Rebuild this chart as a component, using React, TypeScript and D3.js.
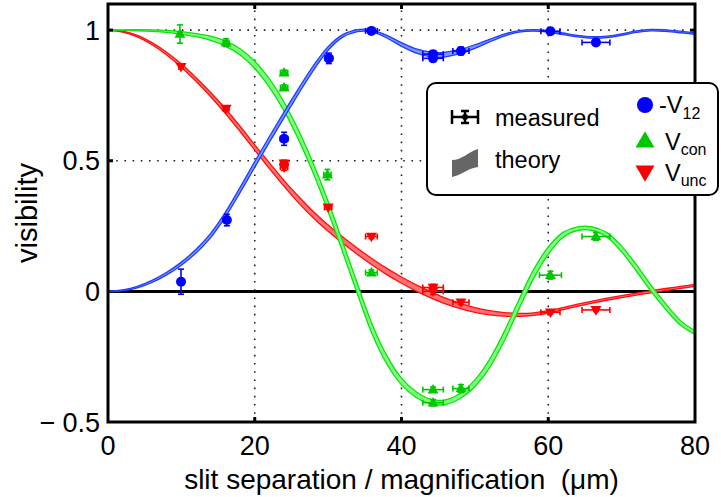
import React from 'react';
import * as d3 from 'd3';

const W = 721;
const H = 497;
const PLOT = { left: 108, right: 695, top: 4, bottom: 422 };

const xTicks = [0, 20, 40, 60, 80];
const xTickLabels = ['0', '20', '40', '60', '80'];
const yTicks = [-0.5, 0, 0.5, 1];
const yTickLabels = ['0.5', '0', '0.5', '1'];
const yTickNegative = [true, false, false, false];
const gridX = [20, 40, 60];
const gridY = [0.5, 1];

// measured data: x, y, x error, y error
const v12X = [9.95, 16.2, 24.0, 30.1, 35.9, 44.3, 44.3, 48.1, 60.3, 66.5];
const v12Y = [0.037, 0.273, 0.584, 0.892, 0.997, 0.908, 0.892, 0.92, 0.996, 0.953];
const v12Xerr = [0.3, 0.3, 0.5, 0.5, 0.8, 1.4, 1.4, 1.1, 1.3, 1.9];
const v12Yerr = [0.048, 0.022, 0.025, 0.02, 0.006, 0.01, 0.01, 0.015, 0.006, 0.008];

const conX = [9.8, 16.1, 24.0, 24.0, 29.9, 35.9, 44.3, 44.3, 48.1, 60.3, 66.5];
const conY = [0.985, 0.952, 0.837, 0.78, 0.447, 0.072, -0.376, -0.426, -0.372, 0.062, 0.21];
const conXerr = [0.3, 0.4, 0.5, 0.5, 0.5, 0.8, 1.4, 1.4, 1.1, 1.5, 1.9];
const conYerr = [0.035, 0.015, 0.01, 0.01, 0.02, 0.01, 0.01, 0.012, 0.015, 0.015, 0.015];

const uncX = [9.95, 16.1, 24.0, 24.0, 30.0, 35.9, 44.3, 44.3, 48.1, 60.3, 66.5];
const uncY = [0.86, 0.70, 0.49, 0.475, 0.322, 0.21, 0.015, 0.0, -0.042, -0.08, -0.071];
const uncXerr = [0.3, 0.4, 0.5, 0.5, 0.5, 0.8, 1.4, 1.4, 1.1, 1.3, 1.9];
const uncYerr = [0.008, 0.008, 0.012, 0.012, 0.008, 0.008, 0.012, 0.012, 0.008, 0.006, 0.006];

// theory curves (centre) and band half-widths
const v12TheoryX = [0, 2, 4, 6, 8, 10, 12, 14, 16, 18, 20, 22, 24, 26, 28, 30, 32, 34, 35, 36, 38, 40, 42, 44, 45, 46, 48, 50, 52, 54, 56, 58, 60, 62, 64, 66, 68, 70, 72, 74, 76, 78, 80];
const v12TheoryY = [0, 0.004, 0.016, 0.038, 0.068, 0.106, 0.154, 0.214, 0.294, 0.388, 0.486, 0.582, 0.676, 0.768, 0.855, 0.93, 0.978, 0.998, 1.0, 0.997, 0.975, 0.945, 0.92, 0.907, 0.905, 0.907, 0.918, 0.937, 0.96, 0.981, 0.995, 0.999, 0.995, 0.986, 0.977, 0.972, 0.974, 0.983, 0.994, 1.0, 0.998, 0.993, 0.987];
const v12TheoryW = [0.001, 0.002, 0.003, 0.004, 0.005, 0.006, 0.007, 0.008, 0.009, 0.01, 0.011, 0.011, 0.011, 0.01, 0.009, 0.007, 0.005, 0.004, 0.004, 0.004, 0.005, 0.007, 0.008, 0.009, 0.009, 0.009, 0.008, 0.007, 0.005, 0.004, 0.003, 0.003, 0.003, 0.003, 0.003, 0.003, 0.003, 0.003, 0.003, 0.003, 0.003, 0.003, 0.003];

const conTheoryX = [0, 2, 4, 6, 8, 10, 12, 14, 16, 18, 20, 22, 24, 26, 28, 30, 32, 34, 36, 38, 40, 42, 44, 46, 48, 50, 52, 54, 56, 58, 60, 62, 64, 66, 68, 70, 72, 74, 76, 78, 80];
const conTheoryY = [1.0, 1.0, 0.9995, 0.998, 0.995, 0.989, 0.981, 0.969, 0.949, 0.917, 0.867, 0.797, 0.707, 0.597, 0.469, 0.325, 0.169, 0.009, -0.145, -0.262, -0.345, -0.395, -0.422, -0.424, -0.4, -0.352, -0.276, -0.172, -0.05, 0.066, 0.156, 0.216, 0.24, 0.24, 0.216, 0.162, 0.09, 0.012, -0.058, -0.12, -0.158];
const conTheoryW = [0.001, 0.001, 0.002, 0.003, 0.004, 0.005, 0.006, 0.008, 0.01, 0.012, 0.014, 0.016, 0.017, 0.018, 0.019, 0.02, 0.02, 0.02, 0.019, 0.016, 0.013, 0.011, 0.009, 0.009, 0.01, 0.013, 0.016, 0.018, 0.018, 0.017, 0.014, 0.01, 0.007, 0.007, 0.009, 0.011, 0.012, 0.012, 0.011, 0.009, 0.007];

const uncTheoryX = [0, 2, 4, 6, 8, 10, 12, 14, 16, 18, 20, 22, 24, 26, 28, 30, 32, 34, 36, 38, 40, 42, 44, 46, 48, 50, 52, 54, 56, 58, 60, 62, 64, 66, 68, 70, 72, 74, 76, 78, 80];
const uncTheoryY = [1.0, 0.994, 0.977, 0.948, 0.91, 0.864, 0.811, 0.753, 0.69, 0.622, 0.551, 0.481, 0.413, 0.35, 0.293, 0.242, 0.196, 0.153, 0.113, 0.076, 0.043, 0.013, -0.013, -0.037, -0.056, -0.071, -0.082, -0.088, -0.09, -0.087, -0.079, -0.066, -0.053, -0.041, -0.03, -0.02, -0.0105, -0.0015, 0.007, 0.015, 0.023];
const uncTheoryW = [0.001, 0.002, 0.003, 0.004, 0.005, 0.006, 0.007, 0.008, 0.009, 0.01, 0.01, 0.011, 0.011, 0.012, 0.012, 0.012, 0.012, 0.012, 0.012, 0.012, 0.012, 0.012, 0.012, 0.011, 0.01, 0.009, 0.008, 0.007, 0.006, 0.005, 0.005, 0.004, 0.004, 0.004, 0.004, 0.004, 0.004, 0.004, 0.004, 0.004, 0.004];

const BLUE = '#0000ff';
const GREEN = '#00c800';
const RED = '#ff0000';
const BLUE_LINE = '#1f3dff';
const GREEN_LINE = '#10e010';
const RED_LINE = '#ff1010';
const BLUE_FILL = '#7d96ff';
const GREEN_FILL = '#7dff7d';
const RED_FILL = '#ff7070';

const FONT = '"Liberation Sans", Arial, Helvetica, sans-serif';

const x = d3.scaleLinear().domain([0, 80]).range([PLOT.left, PLOT.right]);
const y = d3.scaleLinear().domain([-0.5, 1.1]).range([PLOT.bottom, PLOT.top]);

type Pt = { x: number; y: number; w: number };

function Band({ xs, ys, ws, fill, stroke }: { xs: number[]; ys: number[]; ws: number[]; fill: string; stroke: string }) {
  const pts: Pt[] = xs.map((v, i) => ({ x: v, y: ys[i], w: ws[i] }));
  const curve = d3.curveCatmullRom.alpha(0.5);
  const area = d3.area<Pt>().x(d => x(d.x)).y0(d => y(d.y - d.w)).y1(d => y(d.y + d.w)).curve(curve);
  const lo = d3.line<Pt>().x(d => x(d.x)).y(d => y(d.y - d.w)).curve(curve);
  const hi = d3.line<Pt>().x(d => x(d.x)).y(d => y(d.y + d.w)).curve(curve);
  return (
    <g>
      <path d={area(pts) || ''} fill={fill} stroke="none" />
      <path d={lo(pts) || ''} fill="none" stroke={stroke} strokeWidth={1.3} />
      <path d={hi(pts) || ''} fill="none" stroke={stroke} strokeWidth={1.3} />
    </g>
  );
}

function ErrorBars({ xs, ys, xe, ye, color }: { xs: number[]; ys: number[]; xe: number[]; ye: number[]; color: string }) {
  const cap = 3;
  return (
    <g stroke={color} strokeWidth={1.6} fill="none">
      {xs.map((v, i) => {
        const cx = x(v);
        const cy = y(ys[i]);
        const x0 = x(v - xe[i]);
        const x1 = x(v + xe[i]);
        const y0 = y(ys[i] - ye[i]);
        const y1 = y(ys[i] + ye[i]);
        return (
          <g key={i}>
            <line x1={x0} x2={x1} y1={cy} y2={cy} />
            <line x1={x0} x2={x0} y1={cy - cap} y2={cy + cap} />
            <line x1={x1} x2={x1} y1={cy - cap} y2={cy + cap} />
            <line x1={cx} x2={cx} y1={y0} y2={y1} />
            <line x1={cx - cap} x2={cx + cap} y1={y0} y2={y0} />
            <line x1={cx - cap} x2={cx + cap} y1={y1} y2={y1} />
          </g>
        );
      })}
    </g>
  );
}

function triUp(cx: number, cy: number, s: number) {
  const h = s * 0.866;
  return `M${cx},${cy - h * 0.6}L${cx + s / 2},${cy + h * 0.4}L${cx - s / 2},${cy + h * 0.4}Z`;
}
function triDown(cx: number, cy: number, s: number) {
  const h = s * 0.866;
  return `M${cx},${cy + h * 0.6}L${cx + s / 2},${cy - h * 0.4}L${cx - s / 2},${cy - h * 0.4}Z`;
}

export default function App() {
  React.useEffect(() => {
    document.body.style.margin = '0';
  }, []);

  return (
    <svg width={W} height={H} viewBox={`0 0 ${W} ${H}`} style={{ display: 'block', background: '#fff' }} fontFamily={FONT}>
      <defs>
        <clipPath id="plotclip">
          <rect x={PLOT.left} y={PLOT.top} width={PLOT.right - PLOT.left} height={PLOT.bottom - PLOT.top} />
        </clipPath>
      </defs>
      <rect x={0} y={0} width={W} height={H} fill="#fff" />

      {/* grid */}
      <g stroke="#222" strokeWidth={1.6} strokeDasharray="1.6 6.6">
        {gridX.map(v => (
          <line key={'gx' + v} x1={x(v)} x2={x(v)} y1={PLOT.bottom} y2={PLOT.top} />
        ))}
        {gridY.map(v => (
          <line key={'gy' + v} x1={PLOT.left} x2={PLOT.right} y1={y(v)} y2={y(v)} />
        ))}
      </g>

      {/* zero line */}
      <line x1={PLOT.left} x2={PLOT.right} y1={y(0)} y2={y(0)} stroke="#000" strokeWidth={3} />

      {/* theory bands */}
      <g clipPath="url(#plotclip)">
        <Band xs={uncTheoryX} ys={uncTheoryY} ws={uncTheoryW} fill={RED_FILL} stroke={RED_LINE} />
        <Band xs={conTheoryX} ys={conTheoryY} ws={conTheoryW} fill={GREEN_FILL} stroke={GREEN_LINE} />
        <Band xs={v12TheoryX} ys={v12TheoryY} ws={v12TheoryW} fill={BLUE_FILL} stroke={BLUE_LINE} />
      </g>

      {/* measured */}
      <ErrorBars xs={uncX} ys={uncY} xe={uncXerr} ye={uncYerr} color={RED} />
      <ErrorBars xs={conX} ys={conY} xe={conXerr} ye={conYerr} color={GREEN} />
      <ErrorBars xs={v12X} ys={v12Y} xe={v12Xerr} ye={v12Yerr} color={BLUE} />
      <g fill={RED}>
        {uncX.map((v, i) => (
          <path key={i} d={triDown(x(v), y(uncY[i]), 11)} />
        ))}
      </g>
      <g fill={GREEN}>
        {conX.map((v, i) => (
          <path key={i} d={triUp(x(v), y(conY[i]), 11)} />
        ))}
      </g>
      <g fill={BLUE}>
        {v12X.map((v, i) => (
          <circle key={i} cx={x(v)} cy={y(v12Y[i])} r={5} />
        ))}
      </g>

      {/* ticks */}
      <g stroke="#000" strokeWidth={3}>
        {gridX.map(v => (
          <g key={'tx' + v}>
            <line x1={x(v)} x2={x(v)} y1={PLOT.bottom} y2={PLOT.bottom - 5} />
            <line x1={x(v)} x2={x(v)} y1={PLOT.top} y2={PLOT.top + 5} />
          </g>
        ))}
        {gridY.map(v => (
          <g key={'ty' + v}>
            <line x1={PLOT.left} x2={PLOT.left + 5} y1={y(v)} y2={y(v)} />
            <line x1={PLOT.right} x2={PLOT.right - 5} y1={y(v)} y2={y(v)} />
          </g>
        ))}
      </g>

      {/* frame */}
      <rect x={PLOT.left} y={PLOT.top} width={PLOT.right - PLOT.left} height={PLOT.bottom - PLOT.top} fill="none" stroke="#000" strokeWidth={3} />

      {/* tick labels */}
      <g fontSize={27} fill="#000">
        {xTicks.map((v, i) => (
          <text key={'xl' + v} x={x(v)} y={455} textAnchor="middle">{xTickLabels[i]}</text>
        ))}
        {yTicks.map((v, i) => (
          <text key={'yl' + v} x={100} y={y(v)} dy="0.36em" textAnchor="end">
            {yTickNegative[i] ? <tspan>−</tspan> : null}
            <tspan dx={yTickNegative[i] ? 7 : 0}>{yTickLabels[i]}</tspan>
          </text>
        ))}
      </g>

      {/* axis titles */}
      <text x={(PLOT.left + PLOT.right) / 2} y={489} fontSize={28} textAnchor="middle" fill="#000" xmlSpace="preserve">
        slit separation / magnification  (μm)
      </text>
      <text transform={`translate(37, ${(PLOT.top + PLOT.bottom) / 2}) rotate(-90)`} fontSize={29} textAnchor="middle" fill="#000">
        visibility
      </text>

      {/* legend */}
      <g>
        <rect x={427} y={83} width={291} height={112} rx={9} ry={9} fill="#fff" stroke="#000" strokeWidth={2} />
        {/* measured icon */}
        <g stroke="#000" strokeWidth={2.5} fill="none">
          <line x1={452} x2={478} y1={117} y2={117} />
          <line x1={452} x2={452} y1={110} y2={124} />
          <line x1={478} x2={478} y1={110} y2={124} />
          <line x1={465} x2={465} y1={111} y2={123} />
          <line x1={461} x2={469} y1={111} y2={111} />
          <line x1={461} x2={469} y1={123} y2={123} />
        </g>
        <circle cx={465} cy={117} r={3} fill="#000" />
        <text x={495} y={126} fontSize={23.5} fill="#000">measured</text>
        {/* theory icon */}
        <path d="M452,160 C462,160 468,152 478,149 L478,167 C468,168 462,175 452,177 Z" fill="#666" />
        <text x={495} y={168} fontSize={23.5} fill="#000">theory</text>

        <circle cx={645} cy={105} r={8} fill={BLUE} />
        <text x={659} y={113} fontSize={23.5} fill="#000">
          -V<tspan fontSize={16} dy={6}>12</tspan>
        </text>
        <path d={triUp(645, 141, 19)} fill={GREEN} />
        <text x={665} y={150} fontSize={23.5} fill="#000">
          V<tspan fontSize={16} dy={5}>con</tspan>
        </text>
        <path d={triDown(645, 172, 19)} fill={RED} />
        <text x={665} y={181} fontSize={23.5} fill="#000">
          V<tspan fontSize={16} dy={5}>unc</tspan>
        </text>
      </g>
    </svg>
  );
}
